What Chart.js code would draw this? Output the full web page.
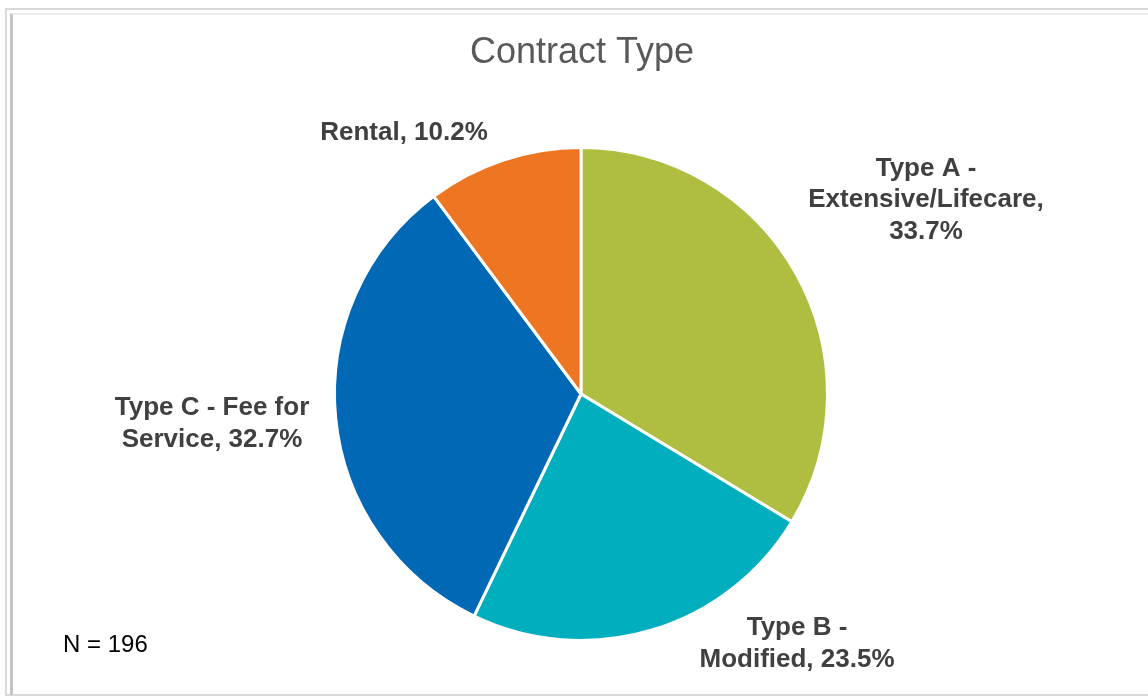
<!DOCTYPE html>
<html>
<head>
<meta charset="utf-8">
<script src="https://cdn.jsdelivr.net/npm/chart.js@4/dist/chart.umd.min.js"></script>
<style>
html,body{margin:0;padding:0;background:#fff;}
#wrap{position:relative;width:1148px;height:700px;overflow:hidden;}
#outer{position:absolute;left:5px;top:8px;width:1150px;height:688px;border:2px solid #d9d9d9;box-sizing:border-box;}
#inner{position:absolute;left:10px;top:13px;width:1140px;height:682px;border-left:3px solid #c4c4c4;border-top:2px solid #ececec;box-sizing:border-box;}
canvas{position:absolute;left:0;top:0;}
</style>
</head>
<body>
<div id="wrap">
<div id="outer"></div>
<div id="inner"></div>
<canvas id="pieChart" width="1148" height="700"></canvas>
</div>
<script>
// values
let categories = ["Type A - Extensive/Lifecare","Type B - Modified","Type C - Fee for Service","Rental"];
let percents = [33.7, 23.5, 32.7, 10.2];
let labelLines = [
    ["Type A -","Extensive/Lifecare,","33.7%"],
    ["Type B -","Modified, 23.5%"],
    ["Type C - Fee for","Service, 32.7%"],
    ["Rental, 10.2%"]
];
let colors = ["#AFBE41","#00AEBE","#0068B5","#EE7623"];

// label centres, relative to the pie centre
let labelOffsets = [[345,-194],[216,250],[-369,30],[-177,-261]];

let labelPlugin = {
    id:"labelPlugin",
    afterDraw(chart){
        let ctx = chart.ctx;
        let arc = chart.getDatasetMeta(0).data[0];
        let cx = arc.x, cy = arc.y;
        ctx.save();
        ctx.textAlign = "center";
        ctx.textBaseline = "middle";
        ctx.fillStyle = "#595959";
        ctx.font = "36px 'Liberation Sans', Arial, sans-serif";
        ctx.fillText("Contract Type", cx + 1, 53);

        ctx.fillStyle = "#404040";
        ctx.font = "bold 26px 'Liberation Sans', Arial, sans-serif";
        labelLines.forEach((lines,i)=>{
            let lh = 31.5;
            let x = cx + labelOffsets[i][0];
            let y0 = cy + labelOffsets[i][1] - (lines.length-1)*lh/2;
            lines.forEach((t,j)=>ctx.fillText(t, x, y0 + j*lh));
        });

        ctx.textAlign = "left";
        ctx.fillStyle = "#000";
        ctx.font = "24px 'Liberation Sans', Arial, sans-serif";
        ctx.fillText("N = 196", 63, 645);
        ctx.restore();
    }
};

new Chart(document.getElementById("pieChart"),{
    type:"pie",
    data:{
        labels:categories,
        datasets:[{
            data:percents,
            backgroundColor:colors,
            borderColor:"#ffffff",
            borderWidth:3
        }]
    },
    options:{
        responsive:false,
        animation:false,
        layout:{padding:{top:146,bottom:58,left:333,right:319}},
        plugins:{
            legend:{display:false},
            tooltip:{enabled:false},
            title:{display:false}
        }
    },
    plugins:[labelPlugin]
});
</script>
</body>
</html>
